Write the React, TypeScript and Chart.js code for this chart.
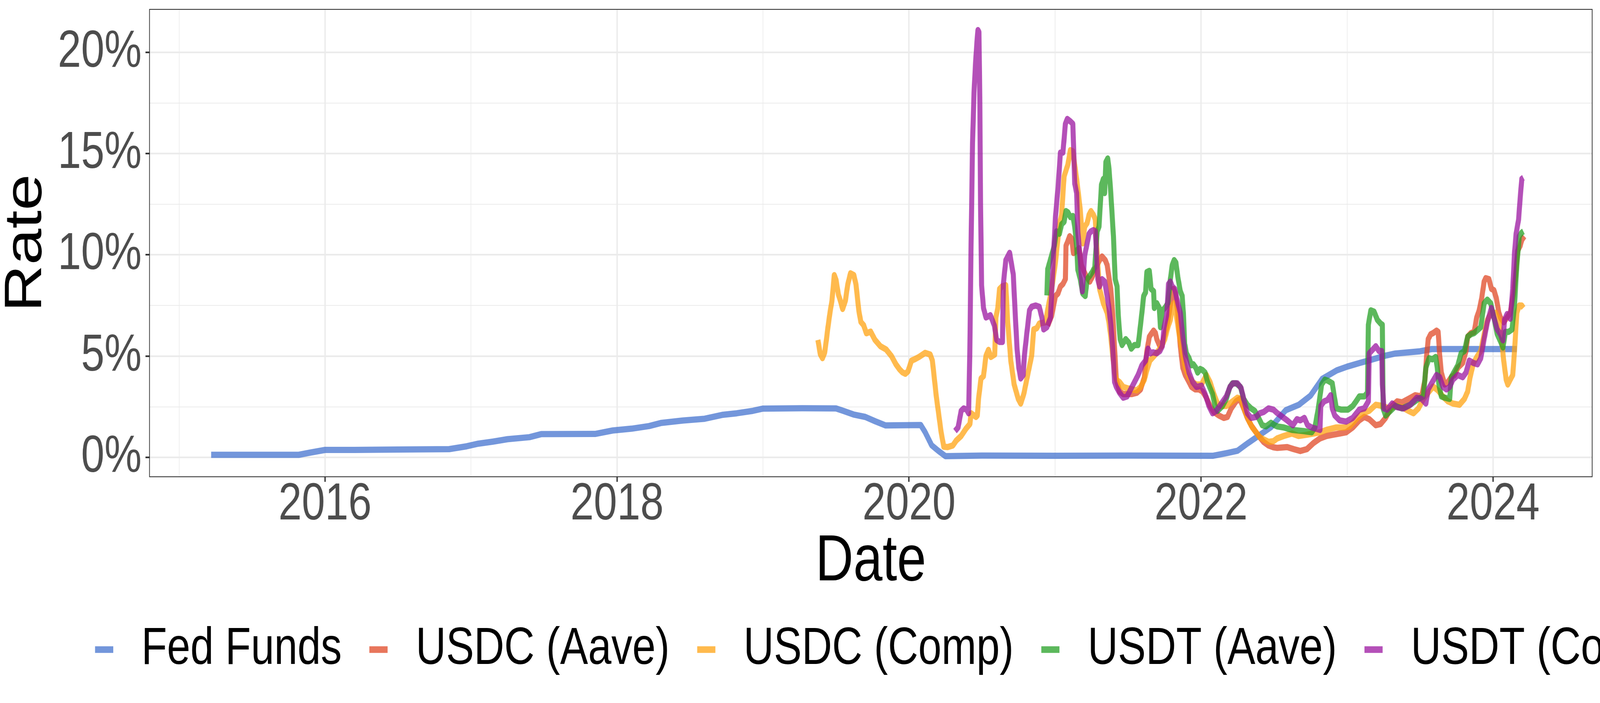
import { useEffect, useRef } from 'react';
import { Chart, registerables } from 'chart.js';

Chart.register(...registerables);
Chart.defaults.font.family = "'Liberation Sans', Arial, sans-serif";

// series names, in legend order
const seriesLabels = ['Fed Funds', 'USDC (Aave)', 'USDC (Comp)', 'USDT (Aave)', 'USDT (Comp)'];
const seriesColors = [
  'rgba(68,115,207,0.75)',
  'rgba(224,72,38,0.75)',
  'rgba(255,163,18,0.75)',
  'rgba(38,160,38,0.75)',
  'rgba(155,22,160,0.75)',
];

// tick labels shown on the axes (minor grid lines sit in between)
const xTickYears = [2016, 2018, 2020, 2022, 2024];
const yTickValues = [0, 5, 10, 15, 20];

// [decimal year, rate in %]
const fedFunds: [number, number][] = [
  [2015.22, 0.13], [2015.5, 0.13], [2015.82, 0.13], [2015.9, 0.24], [2016.0, 0.37], [2016.2, 0.37],
  [2016.5, 0.39], [2016.85, 0.41], [2016.97, 0.55], [2017.05, 0.68], [2017.15, 0.78], [2017.25, 0.9],
  [2017.4, 1.0], [2017.48, 1.15], [2017.85, 1.16], [2017.97, 1.33], [2018.1, 1.42], [2018.22, 1.55],
  [2018.3, 1.7], [2018.45, 1.82], [2018.6, 1.91], [2018.72, 2.1], [2018.82, 2.18], [2018.93, 2.3],
  [2019.0, 2.41], [2019.27, 2.43], [2019.5, 2.42], [2019.55, 2.3], [2019.62, 2.12], [2019.7, 2.0],
  [2019.77, 1.78], [2019.84, 1.58], [2020.08, 1.6], [2020.11, 1.25], [2020.155, 0.6], [2020.2, 0.33],
  [2020.25, 0.06], [2020.5, 0.09], [2021.0, 0.08], [2021.5, 0.09], [2022.08, 0.08], [2022.18, 0.22],
  [2022.25, 0.33], [2022.32, 0.7], [2022.4, 1.1], [2022.48, 1.5], [2022.58, 2.33], [2022.67, 2.6],
  [2022.75, 3.05], [2022.83, 3.88], [2022.93, 4.3], [2023.0, 4.48], [2023.09, 4.67], [2023.17, 4.83],
  [2023.26, 5.02], [2023.33, 5.13], [2023.5, 5.24], [2023.58, 5.35], [2024.163, 5.35],
];

const usdcAave: [number, number][] = [
  [2020.95, 6.5], [2020.977, 7.0], [2021.003, 7.97], [2021.02, 8.09], [2021.037, 8.44], [2021.054, 8.56],
  [2021.071, 8.8], [2021.075, 10.45], [2021.088, 10.68], [2021.1, 10.92], [2021.114, 10.8], [2021.126, 10.09],
  [2021.148, 10.21], [2021.165, 10.33], [2021.18, 9.5], [2021.194, 9.27], [2021.21, 9.0], [2021.238, 8.68],
  [2021.255, 8.91], [2021.272, 9.27], [2021.289, 9.5], [2021.305, 9.74], [2021.322, 9.92], [2021.344, 9.74],
  [2021.357, 9.5], [2021.369, 8.91], [2021.382, 8.32], [2021.395, 7.14], [2021.408, 5.37], [2021.42, 3.84],
  [2021.442, 3.25], [2021.467, 3.13], [2021.527, 3.13], [2021.56, 3.19], [2021.586, 3.36], [2021.612, 3.96],
  [2021.629, 5.25], [2021.646, 5.96], [2021.663, 6.14], [2021.675, 6.26], [2021.688, 6.14], [2021.697, 5.84],
  [2021.714, 5.55], [2021.73, 5.49], [2021.747, 5.96], [2021.765, 6.43], [2021.782, 7.14], [2021.799, 7.97],
  [2021.811, 8.32], [2021.824, 8.09], [2021.841, 7.14], [2021.858, 5.49], [2021.875, 4.43], [2021.892, 4.07],
  [2021.918, 3.72], [2021.935, 3.48], [2021.96, 3.36], [2021.986, 3.36], [2022.011, 3.25], [2022.037, 2.95],
  [2022.062, 2.54], [2022.088, 2.24], [2022.122, 2.07], [2022.156, 1.95], [2022.181, 2.0], [2022.207, 2.42],
  [2022.24, 2.77], [2022.266, 2.89], [2022.292, 2.42], [2022.317, 1.95], [2022.343, 1.59], [2022.377, 1.24],
  [2022.402, 1.0], [2022.428, 0.77], [2022.462, 0.59], [2022.496, 0.5], [2022.522, 0.47], [2022.59, 0.51],
  [2022.635, 0.41], [2022.68, 0.32], [2022.725, 0.41], [2022.77, 0.71], [2022.815, 0.94], [2022.86, 1.06],
  [2022.904, 1.12], [2022.949, 1.18], [2022.994, 1.24], [2023.039, 1.48], [2023.084, 1.83], [2023.118, 2.0],
  [2023.152, 1.89], [2023.197, 1.59], [2023.23, 1.65], [2023.264, 1.95], [2023.309, 2.54], [2023.343, 2.77],
  [2023.377, 2.72], [2023.421, 2.89], [2023.466, 3.07], [2023.511, 3.01], [2023.534, 3.84], [2023.545, 5.02],
  [2023.556, 5.84], [2023.573, 6.08], [2023.59, 6.14], [2023.613, 6.26], [2023.624, 6.2], [2023.635, 5.02],
  [2023.646, 4.19], [2023.669, 3.6], [2023.691, 3.72], [2023.714, 3.96], [2023.736, 4.07], [2023.759, 4.43],
  [2023.792, 4.66], [2023.815, 5.25], [2023.826, 5.96], [2023.849, 6.14], [2023.871, 6.2], [2023.888, 6.91],
  [2023.905, 7.26], [2023.922, 7.85], [2023.939, 8.68], [2023.95, 8.85], [2023.972, 8.8], [2023.989, 8.32],
  [2024.006, 8.26], [2024.023, 7.85], [2024.04, 7.14], [2024.051, 6.91], [2024.073, 6.67], [2024.096, 6.91],
  [2024.118, 7.14], [2024.141, 8.09], [2024.158, 9.27], [2024.169, 10.21], [2024.186, 10.45], [2024.197, 10.74],
  [2024.214, 10.92],
];

const usdcComp: [number, number][] = [
  [2019.376, 5.8], [2019.392, 5.1], [2019.407, 4.9], [2019.422, 5.17], [2019.434, 5.8], [2019.445, 6.45],
  [2019.459, 7.17], [2019.472, 7.73], [2019.488, 9.0], [2019.5, 8.77], [2019.516, 8.05], [2019.53, 7.73],
  [2019.545, 7.33], [2019.564, 7.73], [2019.58, 8.53], [2019.599, 9.09], [2019.622, 9.0], [2019.637, 8.53],
  [2019.656, 7.25], [2019.67, 6.69], [2019.689, 6.53], [2019.708, 6.13], [2019.737, 6.21], [2019.766, 5.81],
  [2019.804, 5.49], [2019.843, 5.33], [2019.88, 5.0], [2019.91, 4.6], [2019.935, 4.35], [2019.955, 4.2],
  [2019.975, 4.13], [2019.993, 4.25], [2020.017, 4.78], [2020.04, 4.85], [2020.068, 4.96], [2020.11, 5.16],
  [2020.145, 5.08], [2020.16, 4.78], [2020.187, 3.0], [2020.22, 1.24], [2020.238, 0.53], [2020.264, 0.51],
  [2020.3, 0.59], [2020.323, 0.83], [2020.357, 1.06], [2020.39, 1.42], [2020.417, 1.65], [2020.425, 2.18],
  [2020.459, 2.0], [2020.468, 2.07], [2020.476, 2.89], [2020.493, 3.9], [2020.51, 4.01], [2020.527, 5.02],
  [2020.544, 5.31], [2020.561, 4.96], [2020.587, 5.08], [2020.595, 6.91], [2020.608, 7.38], [2020.62, 8.32],
  [2020.637, 8.44], [2020.663, 8.5], [2020.676, 6.67], [2020.697, 4.78], [2020.72, 3.6], [2020.748, 2.89],
  [2020.765, 2.66], [2020.786, 3.13], [2020.816, 4.19], [2020.84, 5.02], [2020.854, 6.32], [2020.875, 6.38],
  [2020.892, 6.61], [2020.935, 6.67], [2020.952, 7.38], [2020.977, 8.32], [2021.003, 9.62], [2021.03, 11.51],
  [2021.045, 11.98], [2021.062, 13.87], [2021.088, 14.46], [2021.105, 15.17], [2021.122, 15.11], [2021.148, 13.75],
  [2021.173, 12.22], [2021.19, 10.57], [2021.203, 11.39], [2021.22, 11.57], [2021.233, 11.98], [2021.246, 12.16],
  [2021.263, 11.98], [2021.276, 11.75], [2021.284, 10.68], [2021.293, 9.5], [2021.305, 8.32], [2021.318, 7.97],
  [2021.331, 7.61], [2021.344, 7.38], [2021.357, 7.14], [2021.369, 6.67], [2021.382, 5.96], [2021.395, 5.02],
  [2021.408, 4.19], [2021.42, 3.84], [2021.442, 3.72], [2021.467, 3.48], [2021.493, 3.42], [2021.527, 3.36],
  [2021.56, 3.31], [2021.586, 3.48], [2021.612, 3.84], [2021.629, 4.31], [2021.65, 4.78], [2021.68, 5.02],
  [2021.705, 5.25], [2021.73, 5.49], [2021.752, 5.84], [2021.773, 6.43], [2021.79, 6.79], [2021.803, 7.5],
  [2021.816, 7.61], [2021.833, 6.91], [2021.85, 6.08], [2021.867, 5.37], [2021.892, 4.43], [2021.918, 3.96],
  [2021.943, 3.72], [2021.969, 3.6], [2022.003, 3.6], [2022.037, 4.07], [2022.062, 3.72], [2022.088, 3.13],
  [2022.113, 2.66], [2022.139, 2.54], [2022.173, 2.54], [2022.207, 2.72], [2022.249, 2.95], [2022.275, 2.89],
  [2022.3, 2.3], [2022.326, 1.83], [2022.351, 1.48], [2022.377, 1.24], [2022.402, 1.0], [2022.428, 0.89],
  [2022.462, 0.77], [2022.496, 0.8], [2022.522, 0.94], [2022.567, 1.06], [2022.623, 1.18], [2022.668, 1.06],
  [2022.725, 1.12], [2022.77, 1.18], [2022.815, 1.24], [2022.86, 1.36], [2022.927, 1.48], [2022.983, 1.48],
  [2023.017, 1.53], [2023.062, 1.89], [2023.107, 2.18], [2023.152, 2.3], [2023.197, 2.6], [2023.242, 2.54],
  [2023.287, 2.42], [2023.332, 2.54], [2023.377, 2.48], [2023.421, 2.3], [2023.455, 2.18], [2023.489, 2.42],
  [2023.523, 2.89], [2023.556, 3.2], [2023.59, 3.5], [2023.624, 3.3], [2023.658, 3.0], [2023.691, 2.77],
  [2023.725, 2.66], [2023.77, 2.6], [2023.804, 2.89], [2023.826, 3.25], [2023.843, 3.96], [2023.866, 4.66],
  [2023.894, 5.02], [2023.916, 5.25], [2023.939, 6.08], [2023.961, 6.79], [2023.989, 7.14], [2024.017, 7.14],
  [2024.04, 6.79], [2024.057, 5.96], [2024.073, 4.78], [2024.09, 3.84], [2024.101, 3.6], [2024.118, 3.84],
  [2024.135, 4.07], [2024.147, 5.25], [2024.163, 7.14], [2024.18, 7.5], [2024.197, 7.5], [2024.208, 7.38],
];

const usdtAave: [number, number][] = [
  [2020.944, 8.0], [2020.95, 9.3], [2020.97, 9.8], [2020.995, 10.45], [2021.01, 11.16], [2021.03, 11.04],
  [2021.045, 11.51], [2021.062, 11.63], [2021.075, 12.16], [2021.088, 12.1], [2021.105, 11.87], [2021.122, 11.92],
  [2021.135, 11.39], [2021.148, 10.45], [2021.156, 9.27], [2021.173, 8.8], [2021.19, 8.09], [2021.207, 7.97],
  [2021.22, 8.8], [2021.238, 8.97], [2021.255, 9.15], [2021.272, 9.39], [2021.289, 11.16], [2021.301, 11.39],
  [2021.31, 12.46], [2021.318, 13.46], [2021.331, 13.75], [2021.34, 13.05], [2021.348, 14.58], [2021.361, 14.76],
  [2021.37, 14.23], [2021.382, 13.05], [2021.4, 10.92], [2021.412, 8.8], [2021.425, 8.44], [2021.433, 7.02],
  [2021.446, 5.84], [2021.459, 5.55], [2021.484, 5.84], [2021.505, 5.67], [2021.522, 5.37], [2021.544, 5.55],
  [2021.569, 5.55], [2021.578, 6.08], [2021.595, 7.14], [2021.607, 7.97], [2021.62, 8.15], [2021.629, 9.15],
  [2021.646, 9.21], [2021.658, 8.32], [2021.675, 8.21], [2021.68, 7.38], [2021.697, 7.61], [2021.714, 7.38],
  [2021.722, 6.43], [2021.735, 7.26], [2021.752, 7.38], [2021.773, 7.61], [2021.79, 8.8], [2021.803, 9.5],
  [2021.816, 9.74], [2021.828, 9.62], [2021.841, 8.91], [2021.858, 8.21], [2021.871, 7.97], [2021.879, 7.14],
  [2021.888, 5.61], [2021.9, 5.14], [2021.918, 4.9], [2021.935, 4.55], [2021.947, 4.6], [2021.964, 4.43],
  [2021.977, 4.19], [2021.994, 4.37], [2022.011, 4.31], [2022.028, 4.19], [2022.045, 3.72], [2022.079, 3.13],
  [2022.096, 2.54], [2022.113, 2.3], [2022.147, 2.54], [2022.173, 2.89], [2022.198, 3.48], [2022.215, 3.66],
  [2022.24, 3.66], [2022.27, 3.48], [2022.292, 2.89], [2022.317, 2.6], [2022.343, 2.42], [2022.368, 2.3],
  [2022.394, 1.95], [2022.419, 1.59], [2022.445, 1.53], [2022.479, 1.71], [2022.504, 1.59], [2022.522, 1.53],
  [2022.567, 1.48], [2022.623, 1.36], [2022.702, 1.3], [2022.758, 1.24], [2022.78, 1.48], [2022.803, 2.42],
  [2022.826, 3.6], [2022.848, 3.84], [2022.871, 3.78], [2022.899, 3.66], [2022.91, 3.13], [2022.927, 2.42],
  [2022.961, 2.36], [2023.006, 2.36], [2023.039, 2.54], [2023.062, 2.77], [2023.084, 3.01], [2023.118, 3.01],
  [2023.14, 3.19], [2023.146, 6.55], [2023.163, 7.26], [2023.185, 7.2], [2023.208, 6.79], [2023.23, 6.61],
  [2023.242, 6.55], [2023.247, 2.42], [2023.264, 2.07], [2023.298, 2.3], [2023.332, 2.54], [2023.377, 2.42],
  [2023.433, 2.6], [2023.489, 2.89], [2023.523, 3.01], [2023.54, 4.43], [2023.562, 4.9], [2023.584, 4.84],
  [2023.607, 4.96], [2023.618, 4.43], [2023.629, 3.6], [2023.646, 3.01], [2023.669, 2.95], [2023.703, 2.89],
  [2023.714, 3.96], [2023.736, 4.25], [2023.759, 4.55], [2023.781, 5.14], [2023.804, 5.25], [2023.826, 5.96],
  [2023.849, 6.08], [2023.871, 6.14], [2023.899, 6.32], [2023.916, 6.43], [2023.939, 7.61], [2023.961, 7.79],
  [2023.984, 7.61], [2024.006, 6.91], [2024.029, 6.08], [2024.051, 5.73], [2024.068, 5.43], [2024.085, 6.2],
  [2024.107, 6.2], [2024.13, 6.32], [2024.147, 7.5], [2024.163, 9.5], [2024.18, 10.92], [2024.197, 11.1],
  [2024.208, 11.16],
];

const usdtComp: [number, number][] = [
  [2020.315, 1.3], [2020.336, 1.48], [2020.357, 2.3], [2020.374, 2.42], [2020.395, 2.36], [2020.408, 2.18],
  [2020.416, 5.0], [2020.425, 10.5], [2020.435, 15.5], [2020.445, 18.0], [2020.455, 19.4], [2020.465, 20.5],
  [2020.472, 21.1], [2020.479, 21.0], [2020.485, 17.5], [2020.49, 12.5], [2020.497, 8.5], [2020.51, 7.38],
  [2020.527, 6.91], [2020.544, 6.97], [2020.557, 7.02], [2020.57, 6.79], [2020.585, 6.5], [2020.6, 5.8],
  [2020.62, 5.7], [2020.64, 5.7], [2020.646, 8.56], [2020.663, 9.74], [2020.689, 10.1], [2020.714, 9.03],
  [2020.727, 7.14], [2020.74, 5.37], [2020.752, 4.43], [2020.765, 3.9], [2020.782, 4.07], [2020.79, 5.02],
  [2020.808, 6.2], [2020.825, 7.26], [2020.84, 7.44], [2020.867, 7.5], [2020.892, 7.44], [2020.91, 6.91],
  [2020.922, 6.32], [2020.944, 6.43], [2020.969, 6.91], [2020.986, 9.5], [2021.003, 11.87], [2021.02, 13.28],
  [2021.037, 15.05], [2021.054, 15.05], [2021.071, 16.47], [2021.084, 16.71], [2021.105, 16.59], [2021.122, 16.47],
  [2021.135, 13.52], [2021.148, 13.05], [2021.156, 11.16], [2021.173, 9.74], [2021.187, 8.2], [2021.203, 9.97],
  [2021.22, 10.57], [2021.233, 11.04], [2021.246, 11.16], [2021.263, 11.22], [2021.276, 11.16], [2021.284, 10.09],
  [2021.293, 8.8], [2021.305, 8.44], [2021.322, 8.8], [2021.34, 8.68], [2021.357, 7.97], [2021.369, 7.38],
  [2021.382, 6.55], [2021.395, 5.37], [2021.408, 3.72], [2021.42, 3.48], [2021.442, 3.19], [2021.467, 2.95],
  [2021.493, 3.01], [2021.518, 3.36], [2021.544, 3.72], [2021.569, 4.07], [2021.595, 4.55], [2021.62, 4.78],
  [2021.637, 5.37], [2021.654, 5.14], [2021.671, 5.19], [2021.697, 5.14], [2021.718, 5.25], [2021.735, 5.49],
  [2021.747, 6.43], [2021.765, 7.02], [2021.777, 8.56], [2021.79, 8.68], [2021.803, 8.44], [2021.82, 8.32],
  [2021.841, 7.61], [2021.858, 7.14], [2021.875, 5.96], [2021.892, 5.02], [2021.918, 4.19], [2021.943, 3.72],
  [2021.969, 3.48], [2022.003, 3.54], [2022.028, 3.13], [2022.054, 2.54], [2022.079, 2.18], [2022.105, 2.3],
  [2022.139, 2.66], [2022.173, 3.01], [2022.198, 3.48], [2022.219, 3.66], [2022.249, 3.66], [2022.275, 3.42],
  [2022.292, 2.89], [2022.317, 2.18], [2022.343, 1.95], [2022.377, 2.0], [2022.402, 2.18], [2022.428, 2.24],
  [2022.462, 2.42], [2022.496, 2.36], [2022.52, 2.2], [2022.545, 2.07], [2022.59, 1.83], [2022.629, 1.59],
  [2022.657, 1.89], [2022.68, 1.83], [2022.708, 1.95], [2022.73, 1.59], [2022.758, 1.48], [2022.786, 1.42],
  [2022.815, 1.36], [2022.82, 2.54], [2022.843, 2.77], [2022.865, 2.83], [2022.888, 3.07], [2022.899, 2.42],
  [2022.916, 2.07], [2022.949, 1.83], [2022.994, 1.77], [2023.039, 1.95], [2023.084, 2.36], [2023.118, 2.42],
  [2023.146, 2.77], [2023.152, 5.14], [2023.174, 5.31], [2023.197, 5.49], [2023.219, 5.25], [2023.238, 5.25],
  [2023.242, 3.6], [2023.253, 2.42], [2023.275, 2.36], [2023.309, 2.66], [2023.343, 2.48], [2023.388, 2.42],
  [2023.433, 2.6], [2023.478, 2.95], [2023.511, 2.89], [2023.54, 2.66], [2023.556, 3.36], [2023.584, 3.72],
  [2023.613, 4.07], [2023.635, 3.96], [2023.658, 3.48], [2023.68, 3.36], [2023.703, 3.48], [2023.725, 3.84],
  [2023.759, 4.07], [2023.792, 3.96], [2023.815, 4.19], [2023.837, 4.78], [2023.866, 4.66], [2023.894, 4.6],
  [2023.916, 4.9], [2023.939, 5.84], [2023.961, 6.67], [2023.989, 7.38], [2024.006, 6.91], [2024.029, 6.32],
  [2024.051, 6.08], [2024.068, 5.78], [2024.079, 6.79], [2024.096, 7.08], [2024.118, 6.85], [2024.135, 8.32],
  [2024.147, 10.09], [2024.158, 11.04], [2024.175, 11.75], [2024.186, 12.81], [2024.197, 13.75], [2024.208, 13.81],
];

const seriesData = [fedFunds, usdcAave, usdcComp, usdtAave, usdtComp];

const GRID = '#EBEBEB';
const DARK = '#333333';
const TICK_FONT = 133.6;
const TITLE_FONT = 167;

// the picture is laid out for 5100x1800; squeeze it if the window is smaller
const TARGET_W = 5100;
const TARGET_H = 1800;

const isMajorX = (v: number) => xTickYears.includes(Math.round(v));
const isMajorY = (v: number) => yTickValues.some((t) => Math.abs(t - v) < 1e-6);

// ggplot-style panel border drawn on top of the lines
const panelBorder = {
  id: 'panelBorder',
  afterDraw(chart: Chart) {
    const { ctx, chartArea: a } = chart;
    ctx.save();
    ctx.strokeStyle = DARK;
    ctx.lineWidth = 2.2;
    ctx.strokeRect(a.left, a.top, a.right - a.left, a.bottom - a.top);
    ctx.restore();
  },
};

const RateChart: React.FC = () => {
  const chartRef = useRef<HTMLCanvasElement>(null);
  const chartInstanceRef = useRef<Chart<'line'> | null>(null);

  const sx = Math.min(1, window.innerWidth / TARGET_W);
  const sy = Math.min(1, window.innerHeight / TARGET_H);

  useEffect(() => {
    const ctx = chartRef.current?.getContext('2d');
    if (!ctx || chartInstanceRef.current) return;

    const datasets = seriesLabels.map((label, i) => ({
      label,
      data: seriesData[i].map(([x, y]) => ({ x, y })),
      borderColor: seriesColors[i],
      backgroundColor: seriesColors[i],
      borderWidth: 16,
      borderJoinStyle: 'round' as const,
      borderCapStyle: 'butt' as const,
      pointRadius: 0,
      tension: 0,
      fill: false,
      // later series are drawn on top
      order: seriesLabels.length - i,
    }));

    chartInstanceRef.current = new Chart(ctx, {
      type: 'line',
      data: { datasets },
      plugins: [panelBorder],
      options: {
        animation: false,
        responsive: true,
        maintainAspectRatio: false,
        devicePixelRatio: 1,
        events: [],
        layout: { padding: { top: 24, bottom: 60, left: 0, right: 0 } },
        plugins: {
          tooltip: { enabled: false },
          legend: {
            position: 'bottom',
            labels: {
              usePointStyle: true,
              pointStyle: 'line',
              boxWidth: 104,
              boxHeight: 41,
              padding: 65,
              color: '#000000',
              font: { size: TICK_FONT },
              sort: (a, b) => (a.datasetIndex ?? 0) - (b.datasetIndex ?? 0),
              generateLabels: (chart) =>
                Chart.defaults.plugins.legend.labels
                  .generateLabels(chart)
                  .map((item) => ({ ...item, lineWidth: 17 })),
            },
          },
        },
        scales: {
          x: {
            type: 'linear',
            min: 2014.798,
            max: 2024.679,
            border: { display: false },
            grid: {
              color: GRID,
              lineWidth: (c) => (isMajorX(c.tick?.value ?? 0) ? 4.2 : 2.1),
              tickColor: (c) => (isMajorX(c.tick?.value ?? 0) ? DARK : 'rgba(0,0,0,0)'),
              tickLength: 13,
              tickWidth: 4.2,
            },
            ticks: {
              stepSize: 1,
              maxTicksLimit: 15,
              includeBounds: false,
              autoSkip: false,
              maxRotation: 0,
              minRotation: 0,
              padding: -7,
              color: '#4D4D4D',
              font: { size: TICK_FONT, lineHeight: 1 },
              callback: (v) => (isMajorX(Number(v)) ? String(Math.round(Number(v))) : ''),
            },
            title: {
              display: true,
              text: 'Date',
              color: '#000000',
              font: { size: TITLE_FONT, lineHeight: 1 },
              padding: { top: 0, bottom: 8 },
            },
            afterFit: (scale) => {
              scale.height = 310.7;
              scale.paddingLeft = 0;
              scale.paddingRight = 0;
            },
          },
          y: {
            type: 'linear',
            position: 'left',
            min: -0.954,
            max: 22.12,
            border: { display: false },
            grid: {
              color: GRID,
              lineWidth: (c) => (isMajorY(c.tick?.value ?? 1) ? 4.2 : 2.1),
              tickColor: (c) => (isMajorY(c.tick?.value ?? 1) ? DARK : 'rgba(0,0,0,0)'),
              tickLength: 13,
              tickWidth: 4.2,
            },
            ticks: {
              stepSize: 2.5,
              maxTicksLimit: 15,
              includeBounds: false,
              autoSkip: false,
              padding: 12,
              color: '#4D4D4D',
              font: { size: TICK_FONT, lineHeight: 1 },
              callback: (v) => (isMajorY(Number(v)) ? `${Math.round(Number(v))}%` : ''),
            },
            title: {
              display: true,
              text: 'Rate',
              color: '#000000',
              font: { size: TITLE_FONT, lineHeight: 1 },
              padding: { top: 1, bottom: 0 },
            },
            afterFit: (scale) => {
              scale.width = 476.6;
              scale.paddingTop = 0;
              scale.paddingBottom = 0;
            },
          },
          // empty axis that keeps space at the right of the panel
          pad: {
            type: 'linear',
            position: 'right',
            grid: { display: false, drawTicks: false },
            border: { display: false },
            ticks: { display: false },
            afterFit: (scale) => {
              scale.width = 548;
              scale.paddingTop = 0;
              scale.paddingBottom = 0;
            },
          },
        },
      },
    });

    return () => {
      if (chartInstanceRef.current) {
        chartInstanceRef.current.destroy();
        chartInstanceRef.current = null;
      }
    };
  }, []);

  return (
    <div style={{ position: 'fixed', left: 0, top: 0, width: '100vw', height: '100vh', overflow: 'hidden', background: '#ffffff' }}>
      <div
        style={{
          position: 'relative',
          width: 5623,
          height: TARGET_H,
          transform: `scale(${sx}, ${sy})`,
          transformOrigin: '0 0',
        }}
      >
        <canvas ref={chartRef} />
      </div>
    </div>
  );
};

export default function App() {
  return <RateChart />;
}
